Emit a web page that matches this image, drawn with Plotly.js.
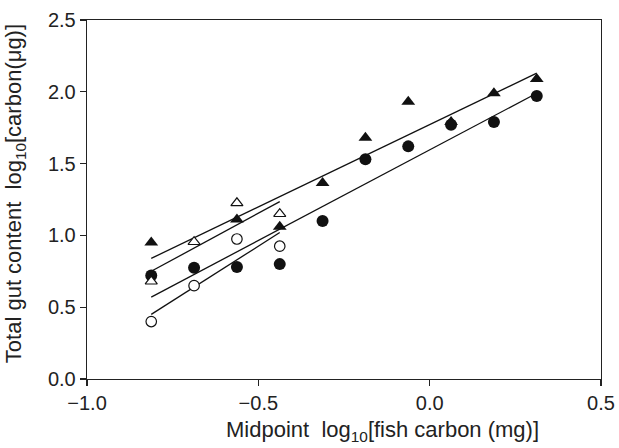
<!DOCTYPE html>
<html>
<head>
<meta charset="utf-8">
<script src="https://cdn.plot.ly/plotly-3.0.1.min.js"></script>
<style>html,body{margin:0;padding:0;background:#fff;}#chart{width:619px;height:448px;}</style>
</head>
<body>
<div id="chart"></div>
<script>
// Midpoint log10[fish carbon (mg)]
const xAll = [-0.8125, -0.6875, -0.5625, -0.4375, -0.3125, -0.1875, -0.0625, 0.0625, 0.1875, 0.3125];
const xShort = [-0.8125, -0.6875, -0.5625, -0.4375];

// Filled triangles (no visible value at -0.6875)
const filledTri = [0.95, null, 1.11, 1.06, 1.365, 1.68, 1.93, 1.79, 1.99, 2.09];
// Filled circles
const filledCirc = [0.72, 0.775, 0.78, 0.80, 1.10, 1.53, 1.62, 1.77, 1.79, 1.97];
// Open triangles
const openTri = [0.68, 0.955, 1.225, 1.15];
// Open circles
const openCirc = [0.40, 0.65, 0.975, 0.925];

// Regression line end points
const lineLongX = [-0.8125, 0.3125];
const lineTriFilled = [0.84, 2.13];
const lineCircFilled = [0.57, 1.99];
const lineShortX = [-0.8125, -0.4375];
const lineTriOpen = [0.75, 1.235];
const lineCircOpen = [0.45, 1.02];

const xTitle = 'Midpoint\u00A0\u00A0log<sub>10</sub>[fish carbon (mg)]';
const yTitle = 'Total gut content\u00A0\u00A0log<sub>10</sub>[carbon(\u03BCg)]';

const lineStyle = {color: '#111', width: 1.3};
const traces = [
  {x: lineLongX, y: lineTriFilled, mode: 'lines', line: lineStyle},
  {x: lineLongX, y: lineCircFilled, mode: 'lines', line: lineStyle},
  {x: lineShortX, y: lineTriOpen, mode: 'lines', line: lineStyle},
  {x: lineShortX, y: lineCircOpen, mode: 'lines', line: lineStyle},
  {x: xAll, y: filledCirc, mode: 'markers', marker: {symbol: 'circle', size: 12, color: '#111', line: {width: 0}}},
  {x: xShort, y: openCirc, mode: 'markers', marker: {symbol: 'circle', size: 10.5, color: '#fff', line: {color: '#111', width: 1.2}}},
  {x: xAll, y: filledTri, mode: 'markers', marker: {symbol: 'triangle-up', size: 12, color: '#111', line: {width: 0}}},
  {x: xShort, y: openTri, mode: 'markers', marker: {symbol: 'triangle-up', size: 10.5, color: '#fff', line: {color: '#111', width: 1.2}}}
];

const fam = '"Liberation Sans", Arial, sans-serif';
const layout = {
  width: 619, height: 448,
  margin: {l: 87, r: 18, t: 20, b: 69},
  paper_bgcolor: '#fff', plot_bgcolor: '#fff',
  showlegend: false,
  font: {family: fam, color: '#222'},
  xaxis: {
    range: [-1.0, 0.5], tickvals: [-1.0, -0.5, 0.0, 0.5], tickformat: '.1f',
    showgrid: false, zeroline: false, showline: true, mirror: true,
    linecolor: '#222', linewidth: 1.3, ticks: 'outside', ticklen: 6, tickwidth: 1.2, tickcolor: '#222',
    tickfont: {size: 20, family: fam, color: '#222'}
  },
  yaxis: {
    range: [0, 2.5], tickvals: [0, 0.5, 1.0, 1.5, 2.0, 2.5], tickformat: '.1f',
    showgrid: false, zeroline: false, showline: true, mirror: true,
    linecolor: '#222', linewidth: 1.3, ticks: 'outside', ticklen: 6, tickwidth: 1.2, tickcolor: '#222',
    tickfont: {size: 20, family: fam, color: '#222'}
  },
  annotations: [
    {text: xTitle, xref: 'paper', yref: 'paper', x: 0.575, y: -0.1, xanchor: 'center', yanchor: 'top',
     showarrow: false, font: {size: 22, family: fam, color: '#222'}},
    {text: yTitle, xref: 'paper', yref: 'paper', x: -0.14, y: 0.515, xanchor: 'center', yanchor: 'middle',
     textangle: -90, showarrow: false, font: {size: 22, family: fam, color: '#222'}}
  ]
};
Plotly.newPlot('chart', traces, layout, {displayModeBar: false, staticPlot: true});
</script>
</body>
</html>
